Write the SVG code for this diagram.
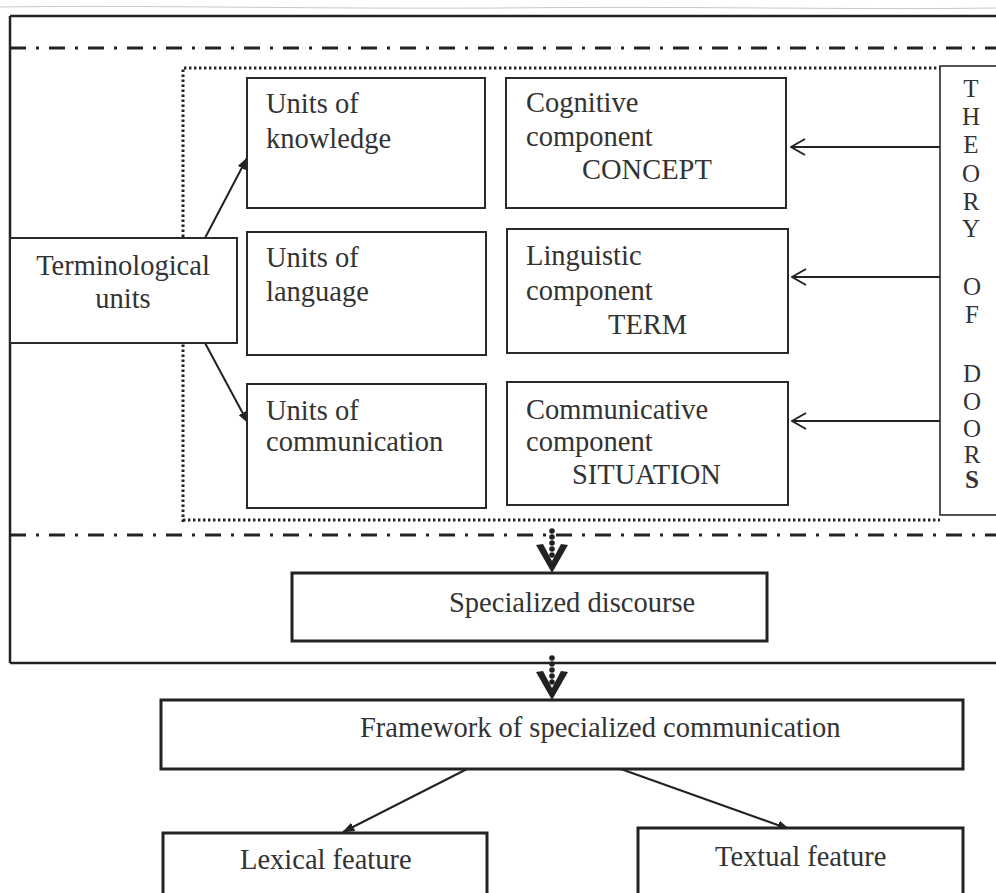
<svg xmlns="http://www.w3.org/2000/svg" width="996" height="893" viewBox="0 0 996 893">
<style>
.t{font-family:"Liberation Serif","Times New Roman",serif;font-size:28.5px;fill:#333}
.th{font-family:"Liberation Serif","Times New Roman",serif;font-size:25px;fill:#333;text-anchor:middle}
.box{fill:#fff;stroke:#2a2a2a;stroke-width:2}
.bb{fill:#fff;stroke:#222;stroke-width:3}
.ln{stroke:#222;stroke-width:2;fill:none}
</style>
<defs>
<marker id="fa" viewBox="0 0 10 10" refX="9.5" refY="5" markerWidth="12" markerHeight="12" orient="auto" markerUnits="userSpaceOnUse">
<path d="M0,1.2 L10,5 L0,8.8 Z" fill="#222"/>
</marker>
<marker id="oa" viewBox="0 0 16 18" refX="15" refY="9" markerWidth="16" markerHeight="18" orient="auto" markerUnits="userSpaceOnUse">
<path d="M1,1 L15,9 L1,17" fill="none" stroke="#222" stroke-width="2"/>
</marker>
<g id="dv">
<circle cx="0" cy="0" r="2.8" fill="#222"/>
<circle cx="0" cy="6" r="2.8" fill="#222"/>
<circle cx="0" cy="12" r="2.8" fill="#222"/>
<circle cx="0" cy="18" r="2.8" fill="#222"/>
<circle cx="0" cy="24" r="2.8" fill="#222"/>
<path d="M-16,14 L0,42 L16,14 L9,13 L0,30 L-9,13 Z" fill="#222"/>
</g>
</defs>
<rect width="996" height="893" fill="#fff"/>
<g id="frame">
<path d="M0,7 C150,5 300,9 500,8 C700,6 850,10 996,8" stroke="#c8c8cc" stroke-width="1" fill="none"/>
<path d="M10,16 L996,16 M10,16 L10,663 M10,663 L996,663" stroke="#222" stroke-width="2.5" fill="none"/>
<path d="M10,48 L996,48 M10,535 L996,535" stroke="#222" stroke-width="3" fill="none" stroke-dasharray="16 10 3 10"/>
<path d="M183,522 L183,68 L940,68 M183,520 L940,520" stroke="#222" stroke-width="3" fill="none" stroke-dasharray="2.4 2.6"/>
</g>
<g id="connectors">
<line class="ln" x1="205" y1="238" x2="247" y2="158" marker-end="url(#fa)"/>
<line class="ln" x1="247" y1="303" x2="258" y2="303" marker-end="url(#fa)"/>
<line class="ln" x1="205" y1="343" x2="248" y2="423" marker-end="url(#fa)"/>
<line class="ln" x1="940" y1="147" x2="791" y2="147" marker-end="url(#oa)"/>
<line class="ln" x1="940" y1="277" x2="792" y2="277" marker-end="url(#oa)"/>
<line class="ln" x1="940" y1="421" x2="792" y2="421" marker-end="url(#oa)"/>
<use href="#dv" x="552" y="531"/>
<use href="#dv" x="552" y="658"/>
<line class="ln" x1="467" y1="769" x2="343" y2="832" marker-end="url(#fa)"/>
<line class="ln" x1="618" y1="768" x2="789" y2="829" marker-end="url(#fa)"/>
</g>
<g id="terminological">
<rect class="box" x="10" y="238" width="227" height="105"/>
<text class="t" x="123" y="275" text-anchor="middle">Terminological</text>
<text class="t" x="123" y="308" text-anchor="middle">units</text>
</g>
<g id="knowledge">
<rect class="box" x="247" y="78" width="238" height="130"/>
<text class="t" x="266" y="113">Units of</text>
<text class="t" x="266" y="148">knowledge</text>
</g>
<g id="language">
<rect class="box" x="247" y="232" width="239" height="123"/>
<text class="t" x="266" y="267">Units of</text>
<text class="t" x="266" y="301">language</text>
</g>
<g id="communication">
<rect class="box" x="247" y="384" width="239" height="124"/>
<text class="t" x="266" y="420">Units of</text>
<text class="t" x="266" y="451">communication</text>
</g>
<g id="cognitive">
<rect class="box" x="506" y="78" width="280" height="130"/>
<text class="t" x="526" y="112">Cognitive</text>
<text class="t" x="526" y="146">component</text>
<text class="t" x="582" y="179">CONCEPT</text>
</g>
<g id="linguistic">
<rect class="box" x="507" y="229" width="281" height="124"/>
<text class="t" x="526" y="265">Linguistic</text>
<text class="t" x="526" y="300">component</text>
<text class="t" x="608" y="334">TERM</text>
</g>
<g id="communicative">
<rect class="box" x="507" y="382" width="281" height="123"/>
<text class="t" x="526" y="419">Communicative</text>
<text class="t" x="526" y="451">component</text>
<text class="t" x="572" y="484">SITUATION</text>
</g>
<g id="theory">
<rect x="940" y="66" width="70" height="449" fill="#fff" stroke="#2a2a2a" stroke-width="1.6"/>
<text class="th" x="971" y="97">T</text>
<text class="th" x="971" y="125">H</text>
<text class="th" x="971" y="153">E</text>
<text class="th" x="971" y="182">O</text>
<text class="th" x="971" y="210">R</text>
<text class="th" x="971" y="237">Y</text>
<text class="th" x="972" y="295">O</text>
<text class="th" x="972" y="323">F</text>
<text class="th" x="972" y="382">D</text>
<text class="th" x="972" y="410">O</text>
<text class="th" x="972" y="437">O</text>
<text class="th" x="972" y="463">R</text>
<text class="th" x="972" y="488" font-weight="bold">S</text>
</g>
<g id="discourse">
<rect class="bb" x="292" y="573" width="475" height="68"/>
<text class="t" x="449" y="612">Specialized discourse</text>
</g>
<g id="framework">
<rect class="bb" x="161" y="700" width="802" height="69"/>
<text class="t" x="360" y="737">Framework of specialized communication</text>
</g>
<g id="lexical">
<rect class="bb" x="163" y="833" width="324" height="70"/>
<text class="t" x="240" y="869">Lexical feature</text>
</g>
<g id="textual">
<rect class="bb" x="638" y="828" width="325" height="75"/>
<text class="t" x="715" y="866">Textual feature</text>
</g>
</svg>
